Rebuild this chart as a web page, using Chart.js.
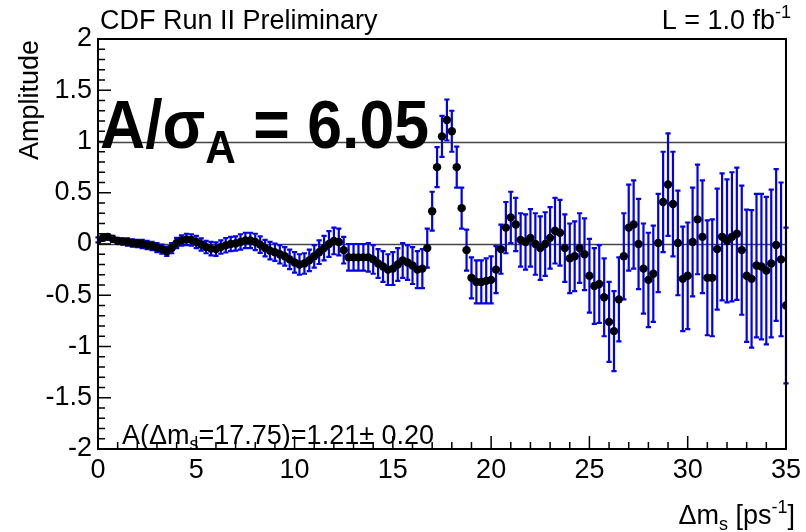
<!DOCTYPE html>
<html>
<head>
<meta charset="utf-8">
<script src="https://cdn.jsdelivr.net/npm/chart.js@4.4.0/dist/chart.umd.min.js"></script>
<style>
  html, body { margin: 0; padding: 0; background: #fff; }
  #c { display: block; }
</style>
</head>
<body>
<canvas id="c" width="806" height="532"></canvas>
<script>
// amplitude scan: delta m_s (ps^-1), amplitude, 1 sigma error
const dm = [
  0, 0.25, 0.5, 0.75, 1, 1.25, 1.5, 1.75, 2, 2.25,
  2.5, 2.75, 3, 3.25, 3.5, 3.75, 4, 4.25, 4.5, 4.75,
  5, 5.25, 5.5, 5.75, 6, 6.25, 6.5, 6.75, 7, 7.25,
  7.5, 7.75, 8, 8.25, 8.5, 8.75, 9, 9.25, 9.5, 9.75,
  10, 10.25, 10.5, 10.75, 11, 11.25, 11.5, 11.75, 12, 12.25,
  12.5, 12.75, 13, 13.25, 13.5, 13.75, 14, 14.25, 14.5, 14.75,
  15, 15.25, 15.5, 15.75, 16, 16.25, 16.5, 16.75, 17, 17.25,
  17.5, 17.75, 18, 18.25, 18.5, 18.75, 19, 19.25, 19.5, 19.75,
  20, 20.25, 20.5, 20.75, 21, 21.25, 21.5, 21.75, 22, 22.25,
  22.5, 22.75, 23, 23.25, 23.5, 23.75, 24, 24.25, 24.5, 24.75,
  25, 25.25, 25.5, 25.75, 26, 26.25, 26.5, 26.75, 27, 27.25,
  27.5, 27.75, 28, 28.25, 28.5, 28.75, 29, 29.25, 29.5, 29.75,
  30, 30.25, 30.5, 30.75, 31, 31.25, 31.5, 31.75, 32, 32.25,
  32.5, 32.75, 33, 33.25, 33.5, 33.75, 34, 34.25, 34.5, 34.75,
  35
];
const amp = [
  0.04, 0.06, 0.07, 0.05, 0.03, 0.025, 0.02, 0.01, 0.005, 0.0,
  -0.01, -0.02, -0.035, -0.05, -0.07, -0.04, 0.01, 0.035, 0.045, 0.04,
  0.02, -0.005, -0.03, -0.045, -0.05, -0.03, -0.013, 0.0, 0.005, 0.02,
  0.035, 0.035, 0.02, -0.006, -0.04, -0.065, -0.08, -0.1, -0.12, -0.15,
  -0.18, -0.2, -0.19, -0.16, -0.12, -0.08, -0.04, 0.0, 0.03, 0.02,
  -0.06, -0.13, -0.13, -0.13, -0.13, -0.13, -0.15, -0.19, -0.22, -0.25,
  -0.24, -0.2, -0.16, -0.18, -0.21, -0.25, -0.24, -0.04, 0.32, 0.75,
  1.05, 1.21, 1.10, 0.75, 0.35, -0.06, -0.33, -0.37, -0.37, -0.36,
  -0.35, -0.25, -0.05, 0.16, 0.26, 0.19, 0.04, 0.02, 0.06, 0.0,
  -0.04, 0.0, 0.06, 0.13, 0.11, -0.04, -0.14, -0.12, -0.04, -0.10,
  -0.31, -0.41, -0.39, -0.52, -0.76, -0.85, -0.54, -0.12, 0.16, 0.19,
  0.0, -0.24, -0.35, -0.29, 0.01, 0.41, 0.58, 0.39, 0.01, -0.34,
  -0.31, 0.02, 0.24, 0.07, -0.33, -0.33, -0.05, 0.07, 0.03, 0.07,
  0.10, -0.06, -0.31, -0.34, -0.21, -0.22, -0.26, -0.19, -0.01, -0.15,
  -0.60
];
const err = [
  0.025, 0.025, 0.025, 0.03, 0.03, 0.03, 0.035, 0.035, 0.035, 0.04,
  0.04, 0.04, 0.045, 0.045, 0.045, 0.05, 0.05, 0.05, 0.055, 0.055,
  0.06, 0.06, 0.06, 0.065, 0.065, 0.065, 0.07, 0.07, 0.07, 0.075,
  0.075, 0.075, 0.08, 0.08, 0.08, 0.085, 0.085, 0.09, 0.09, 0.095,
  0.1, 0.1, 0.1, 0.105, 0.11, 0.115, 0.12, 0.125, 0.13, 0.13,
  0.13, 0.13, 0.13, 0.13, 0.13, 0.14, 0.14, 0.14, 0.15, 0.15,
  0.16, 0.16, 0.17, 0.17, 0.18, 0.18, 0.19, 0.19, 0.19, 0.195,
  0.2, 0.2, 0.2, 0.2, 0.2, 0.2, 0.2, 0.21, 0.21, 0.22,
  0.23, 0.23, 0.24, 0.25, 0.25, 0.26, 0.26, 0.27, 0.28, 0.3,
  0.31, 0.31, 0.3, 0.32, 0.32, 0.33, 0.34, 0.34, 0.34, 0.35,
  0.36, 0.37, 0.38, 0.38, 0.39, 0.39, 0.41, 0.42, 0.42, 0.43,
  0.44, 0.44, 0.46, 0.47, 0.48, 0.49, 0.5, 0.51, 0.51, 0.51,
  0.52, 0.53, 0.535, 0.55, 0.56, 0.57, 0.59, 0.62, 0.6, 0.63,
  0.645, 0.63, 0.645, 0.67, 0.7, 0.71, 0.72, 0.72, 0.74, 0.75,
  0.76
];
const xTicks = [0, 5, 10, 15, 20, 25, 30, 35];
const yTicks = [-2, -1.5, -1, -0.5, 0, 0.5, 1, 1.5, 2];
const refLines = [0, 1];

const F = '"Liberation Sans", Arial, Helvetica, sans-serif';

function richText(ctx, parts, x, y, align, sx) {
  sx = sx || 1;
  let w = 0;
  parts.forEach(p => { ctx.font = p.f; w += ctx.measureText(p.t).width; });
  ctx.save();
  ctx.translate(align === 'right' ? x - w * sx : x, y);
  ctx.scale(sx, 1);
  let cx = 0;
  parts.forEach(p => {
    ctx.font = p.f;
    ctx.fillText(p.t, cx, p.dy || 0);
    cx += ctx.measureText(p.t).width;
  });
  ctx.restore();
}

// reference lines + error bars, under the markers
const errorBars = {
  id: 'errorBars',
  beforeDatasetsDraw(chart) {
    const { ctx, chartArea: a, scales: { x, y } } = chart;
    ctx.save();
    ctx.strokeStyle = '#444';
    ctx.lineWidth = 1.5;
    refLines.forEach(v => {
      const py = Math.round(y.getPixelForValue(v)) + 0.5;
      ctx.beginPath(); ctx.moveTo(a.left, py); ctx.lineTo(a.right, py); ctx.stroke();
    });
    ctx.strokeStyle = '#0000ee';
    ctx.lineWidth = 2.2;
    dm.forEach((m, i) => {
      const px = x.getPixelForValue(m);
      const top = y.getPixelForValue(amp[i] + err[i]);
      const bot = y.getPixelForValue(amp[i] - err[i]);
      ctx.beginPath();
      ctx.moveTo(px, top); ctx.lineTo(px, bot);
      ctx.moveTo(px - 2.6, top); ctx.lineTo(px + 2.6, top);
      ctx.moveTo(px - 2.6, bot); ctx.lineTo(px + 2.6, bot);
      ctx.stroke();
    });
    ctx.restore();
  }
};

// ROOT style frame, inner ticks and text
const frame = {
  id: 'frame',
  afterDraw(chart) {
    const { ctx, chartArea: a, scales: { x, y } } = chart;
    ctx.save();
    ctx.strokeStyle = '#000';
    ctx.lineWidth = 1.5;
    ctx.beginPath();
    for (let k = -20; k <= 20; k++) {
      const py = y.getPixelForValue(k / 10);
      const len = k % 5 === 0 ? 13 : 7;
      ctx.moveTo(a.left, py); ctx.lineTo(a.left + len, py);
    }
    for (let k = 0; k <= 35; k++) {
      const px = x.getPixelForValue(k);
      const len = k % 5 === 0 ? 13 : 7;
      ctx.moveTo(px, a.bottom); ctx.lineTo(px, a.bottom - len);
    }
    ctx.stroke();
    ctx.lineWidth = 2;
    ctx.strokeRect(a.left, a.top, a.right - a.left, a.bottom - a.top);

    ctx.fillStyle = '#000';
    ctx.textBaseline = 'alphabetic';
    ctx.textAlign = 'left';
    const n = `27px ${F}`, s = `18px ${F}`;
    ctx.font = n;
    ctx.fillText('CDF Run II Preliminary', 100, 29);
    richText(ctx, [{ t: 'L = 1.0 fb', f: n }, { t: '-1', f: s, dy: -11 }], 791, 29, 'right');
    richText(ctx, [
      { t: '\u0394m', f: n }, { t: 's', f: s, dy: 6 },
      { t: ' [ps', f: n }, { t: '-1', f: s, dy: -11 }, { t: ']', f: n }
    ], 795, 524, 'right');
    richText(ctx, [
      { t: 'A(\u0394m', f: n }, { t: 's', f: s, dy: 6 },
      { t: '=17.75)=1.21\u00b1 0.20', f: n }
    ], 122, 444, 'left');
    richText(ctx, [
      { t: 'A/\u03c3', f: `bold 68px ${F}` },
      { t: 'A', f: `bold 46px ${F}`, dy: 15 },
      { t: ' = 6.05', f: `bold 68px ${F}` }
    ], 100, 148, 'left', 0.92);

    ctx.save();
    ctx.translate(38, 40);
    ctx.rotate(-Math.PI / 2);
    ctx.textAlign = 'right';
    ctx.font = n;
    ctx.fillText('Amplitude', 0, 0);
    ctx.restore();
    ctx.restore();
  }
};

new Chart(document.getElementById('c'), {
  type: 'scatter',
  data: {
    datasets: [{
      data: dm.map((m, i) => ({ x: m, y: amp[i] })),
      pointRadius: 4.2,
      pointBackgroundColor: '#000',
      pointBorderWidth: 0
    }]
  },
  options: {
    responsive: false,
    devicePixelRatio: 1,
    animation: false,
    layout: { padding: { top: 39, right: 17, left: 0, bottom: 0 } },
    plugins: { legend: { display: false }, tooltip: { enabled: false } },
    scales: {
      x: {
        type: 'linear', min: 0, max: 35,
        afterBuildTicks: sc => { sc.ticks = xTicks.map(v => ({ value: v })); },
        afterFit: sc => { sc.height = 83; },
        grid: { display: false, drawTicks: false },
        border: { display: false },
        ticks: { font: { family: F, size: 27 }, color: '#000', padding: 5, maxRotation: 0, autoSkip: false, callback: v => String(v) }
      },
      y: {
        type: 'linear', min: -2, max: 2,
        afterBuildTicks: sc => { sc.ticks = yTicks.map(v => ({ value: v })); },
        afterFit: sc => { sc.width = 98; },
        grid: { display: false, drawTicks: false },
        border: { display: false },
        ticks: { font: { family: F, size: 27 }, color: '#000', padding: 6, autoSkip: false, callback: v => String(v) }
      }
    }
  },
  plugins: [errorBars, frame]
});
</script>
</body>
</html>
